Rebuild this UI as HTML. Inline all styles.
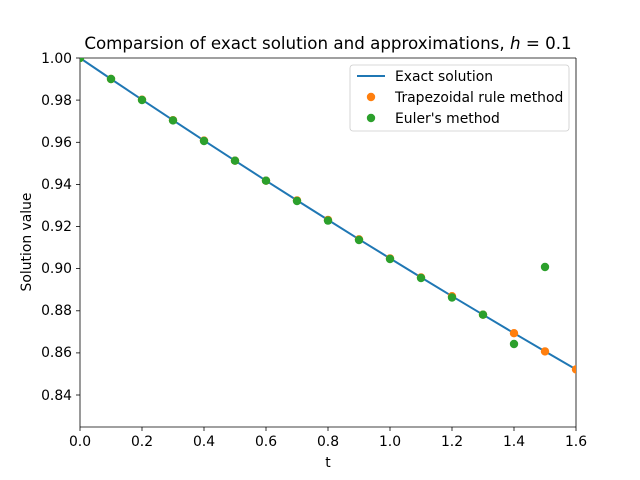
<!DOCTYPE html>
<html><head><meta charset="utf-8"><style>body{margin:0;background:#fff}svg{display:block}text{font-family:"DejaVu Sans","Liberation Sans",sans-serif;fill:#000}</style></head><body>
<svg width="640" height="480" xmlns="http://www.w3.org/2000/svg">
<rect width="640" height="480" fill="#fff"/>
<text x="328" y="49" font-size="16.7" text-anchor="middle">Comparsion of exact solution and approximations, <tspan font-style="italic">h</tspan> = 0.1</text>
<g stroke="#000" stroke-width="0.8">
<line x1="80" y1="58" x2="80" y2="427"/><line x1="576" y1="58" x2="576" y2="427"/>
<line x1="80" y1="58" x2="576" y2="58"/><line x1="80" y1="427" x2="576" y2="427"/>
<line x1="80" y1="427" x2="80" y2="431"/><line x1="142" y1="427" x2="142" y2="431"/><line x1="204" y1="427" x2="204" y2="431"/><line x1="266" y1="427" x2="266" y2="431"/><line x1="328" y1="427" x2="328" y2="431"/><line x1="390" y1="427" x2="390" y2="431"/><line x1="452" y1="427" x2="452" y2="431"/><line x1="514" y1="427" x2="514" y2="431"/><line x1="576" y1="427" x2="576" y2="431"/>
<line x1="76" y1="58" x2="80" y2="58"/><line x1="76" y1="100.1" x2="80" y2="100.1"/><line x1="76" y1="142.3" x2="80" y2="142.3"/><line x1="76" y1="184.4" x2="80" y2="184.4"/><line x1="76" y1="226.5" x2="80" y2="226.5"/><line x1="76" y1="268.6" x2="80" y2="268.6"/><line x1="76" y1="310.8" x2="80" y2="310.8"/><line x1="76" y1="352.9" x2="80" y2="352.9"/><line x1="76" y1="395" x2="80" y2="395"/>
</g>
<g font-size="13.9" text-anchor="middle">
<text x="80" y="446">0.0</text><text x="142" y="446">0.2</text><text x="204" y="446">0.4</text><text x="266" y="446">0.6</text><text x="328" y="446">0.8</text><text x="390" y="446">1.0</text><text x="452" y="446">1.2</text><text x="514" y="446">1.4</text><text x="576" y="446">1.6</text>
<text x="328" y="467">t</text>
</g>
<g font-size="13.9" text-anchor="end">
<text x="72" y="63">1.00</text><text x="72" y="105">0.98</text><text x="72" y="147">0.96</text><text x="72" y="189">0.94</text><text x="72" y="231">0.92</text><text x="72" y="273">0.90</text><text x="72" y="315">0.88</text><text x="72" y="357">0.86</text><text x="72" y="400">0.84</text>
</g>
<text transform="translate(31,242) rotate(-90)" font-size="13.9" text-anchor="middle">Solution value</text>
<svg x="80" y="58" width="496" height="369" overflow="hidden"><g transform="translate(-80,-58)">
<polyline fill="none" stroke="#1f77b4" stroke-width="2" points="80,58 111,79 142,99.7 173,120.2 204,140.6 235,160.7 266,180.7 297,200.4 328,219.9 359,239.3 390,258.4 421,277.4 452,296.2 483,314.7 514,333.2 545,351.4 576,369.4"/>
<g fill="#ff7f0e">
<circle cx="80" cy="58" r="4.2"/><circle cx="111" cy="79" r="4.2"/><circle cx="142" cy="99.7" r="4.2"/><circle cx="173" cy="120.2" r="4.2"/><circle cx="204" cy="140.6" r="4.2"/><circle cx="235" cy="160.7" r="4.2"/><circle cx="266" cy="180.7" r="4.2"/><circle cx="297" cy="200.4" r="4.2"/><circle cx="328" cy="219.9" r="4.2"/><circle cx="359" cy="239.3" r="4.2"/><circle cx="390" cy="258.4" r="4.2"/><circle cx="421" cy="277.4" r="4.2"/><circle cx="452" cy="296.2" r="4.2"/><circle cx="483" cy="314.7" r="4.2"/><circle cx="514" cy="333.2" r="4.2"/><circle cx="545" cy="351.4" r="4.2"/><circle cx="576" cy="369.4" r="4.2"/>
</g>
<g fill="#2ca02c">
<circle cx="80" cy="58" r="4.2"/><circle cx="111" cy="79" r="4.2"/><circle cx="142" cy="100" r="4.2"/><circle cx="173" cy="120.4" r="4.2"/><circle cx="204" cy="141" r="4.2"/><circle cx="235" cy="160.7" r="4.2"/><circle cx="266" cy="180.7" r="4.2"/><circle cx="297" cy="201" r="4.2"/><circle cx="328" cy="220.6" r="4.2"/><circle cx="359" cy="240" r="4.2"/><circle cx="390" cy="259" r="4.2"/><circle cx="421" cy="278" r="4.2"/><circle cx="452" cy="297.5" r="4.2"/><circle cx="483" cy="314.7" r="4.2"/><circle cx="514" cy="344" r="4.2"/><circle cx="545" cy="267" r="4.2"/>
</g></g></svg>
<rect x="350" y="65" width="219" height="66" rx="3" fill="#fff" fill-opacity="0.8" stroke="#ccc" stroke-width="0.8"/>
<line x1="357" y1="76" x2="385" y2="76" stroke="#1f77b4" stroke-width="2"/>
<circle cx="371" cy="97" r="4.2" fill="#ff7f0e"/>
<circle cx="371" cy="118" r="4.2" fill="#2ca02c"/>
<g font-size="13.9"><text x="395" y="81">Exact solution</text><text x="395" y="102">Trapezoidal rule method</text><text x="395" y="123">Euler's method</text></g>
</svg>
</body></html>
